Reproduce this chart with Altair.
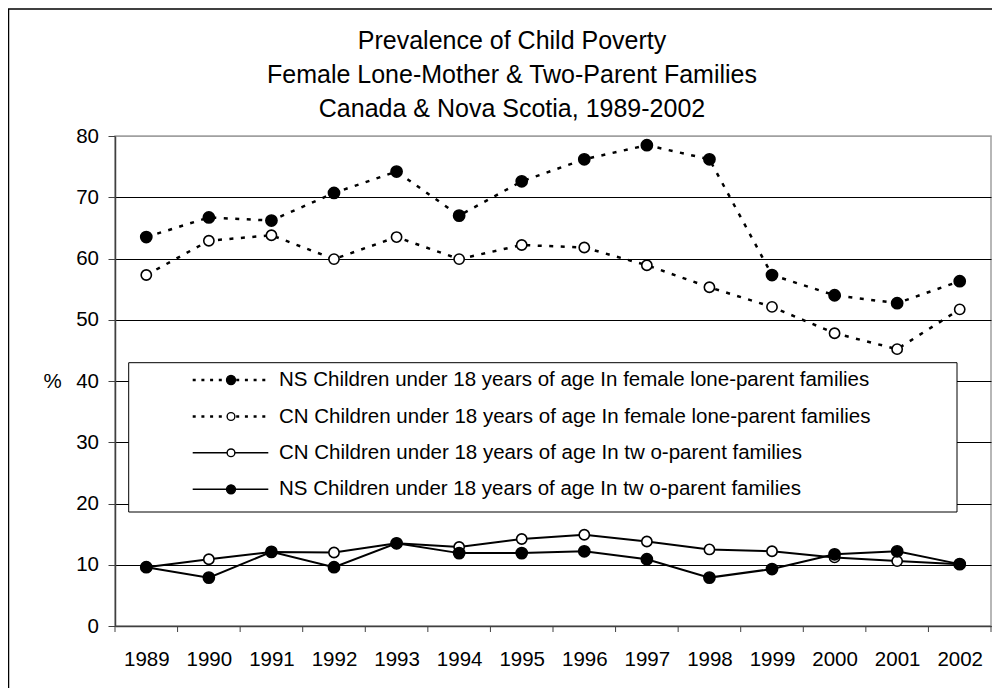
import altair as alt
import pandas as pd

YEARS = list(range(1989, 2003))
NS_LONE = [63.5, 66.7, 66.2, 70.7, 74.2, 67.0, 72.6, 76.2, 78.5, 76.2, 57.3, 54.0, 52.7, 56.3]
CN_LONE = [57.3, 62.9, 63.8, 59.9, 63.5, 59.9, 62.2, 61.8, 58.9, 55.3, 52.1, 47.8, 45.2, 51.7]
CN_TWO = [9.6, 10.9, 12.1, 12.0, 13.5, 12.9, 14.2, 14.9, 13.8, 12.5, 12.2, 11.2, 10.6, 10.1]
NS_TWO = [9.6, 7.9, 12.1, 9.6, 13.5, 11.9, 11.9, 12.2, 10.9, 7.9, 9.3, 11.7, 12.2, 10.1]

SERIES_NAMES = [
    "NS Children under 18 years of age In female lone-parent families",
    "CN Children under 18 years of age In female lone-parent families",
    "CN Children under 18 years of age In tw o-parent families",
    "NS Children under 18 years of age In tw o-parent families",
]
SERIES_VALUES = [NS_LONE, CN_LONE, CN_TWO, NS_TWO]
SERIES_DOTTED = [True, True, False, False]
SERIES_FILLED = [True, False, False, True]

TITLE_LINES = [
    "Prevalence of Child Poverty",
    "Female Lone-Mother & Two-Parent Families",
    "Canada & Nova Scotia, 1989-2002",
]
Y_TICKS = [0, 10, 20, 30, 40, 50, 60, 70, 80]
Y_TITLE = "%"

FONT = "Liberation Sans"
W, H = 876, 490
AXIS_COL = "#404040"

x_scale = alt.Scale(domain=[YEARS[0] - 0.5, YEARS[-1] + 0.5], nice=False, zero=False)
y_scale = alt.Scale(domain=[0, 80], nice=False, zero=True)

x_axis = alt.Axis(
    values=YEARS, format="d", ticks=False, tickSize=0, grid=False,
    domainColor=AXIS_COL, domainWidth=1.5,
    labelFont=FONT, labelFontSize=20.5, labelColor="black",
    labelBaseline="alphabetic", labelPadding=39, labelFlush=False,
    labelOverlap=False, title=None,
)
y_axis = alt.Axis(
    values=Y_TICKS, grid=True,
    gridColor={"condition": {"test": "datum.value == 80", "value": "#a0a0a0"}, "value": "black"},
    gridWidth=1, gridOpacity=1, tickSize=7, tickColor=AXIS_COL, tickWidth=1,
    domainColor=AXIS_COL, domainWidth=1.5,
    labelFont=FONT, labelFontSize=20.5, labelColor="black", labelPadding=9.5,
    labelFlush=False, labelOverlap=False,
    title=Y_TITLE, titleAngle=0, titleX=-63, titleY=245, titleAlign="center",
    titleBaseline="middle", titleFont=FONT, titleFontSize=20.5,
    titleFontWeight="normal", titleColor="black",
)


def X(field):
    return alt.X(field, scale=x_scale, axis=x_axis)


def Y(field):
    return alt.Y(field, scale=y_scale, axis=y_axis)


ordered = []
for name, vals, dotted, filled in zip(SERIES_NAMES, SERIES_VALUES, SERIES_DOTTED, SERIES_FILLED):
    df = pd.DataFrame({"year": YEARS, "value": vals, "series": name})
    line_kw = dict(color="black", strokeWidth=2.5 if dotted else 2)
    if dotted:
        line_kw["strokeDash"] = [4, 7.5]
    line = alt.Chart(df).mark_line(**line_kw).encode(x=X("year:Q"), y=Y("value:Q"))
    pts = alt.Chart(df).mark_point(
        shape="circle", filled=True, fill="black" if filled else "white",
        stroke="black", strokeWidth=1.6, size=125 if filled else 105, opacity=1,
    ).encode(x=X("year:Q"), y=Y("value:Q"))
    ordered += [line, pts]

# x ticks at category boundaries
bounds = pd.DataFrame({"year": [y - 0.5 for y in YEARS] + [YEARS[-1] + 0.5]})
xticks = alt.Chart(bounds).mark_rule(color=AXIS_COL, strokeWidth=1).encode(
    x=X("year:Q"), y=alt.value(H), y2=alt.value(H + 6)
)

one = pd.DataFrame({"k": [0]})

# outer chart frame (top & left edges visible)
frame_left = alt.Chart(one).mark_rule(color="black", strokeWidth=1.5).encode(
    x=alt.value(-106.5), y=alt.value(-127), y2=alt.value(H + 80)
)
frame_top = alt.Chart(one).mark_rule(color="black", strokeWidth=1.5).encode(
    x=alt.value(-107), x2=alt.value(W + 10), y=alt.value(-127)
)

# title lines
title_layers = []
title_y = [-86.7, -52.7, -19.3]
for txt, ty in zip(TITLE_LINES, title_y):
    title_layers.append(
        alt.Chart(one).mark_text(
            text=txt, font=FONT, fontSize=25, color="black",
            align="center", baseline="alphabetic",
        ).encode(x=alt.value(397), y=alt.value(ty))
    )

# legend box
legend_box = alt.Chart(one).mark_rect(fill="white", stroke="black", strokeWidth=1).encode(
    x=alt.value(13.7), x2=alt.value(842), y=alt.value(226.7), y2=alt.value(376)
)
legend_layers = [legend_box]
row_y = [244, 280.5, 316.8, 353.3]
for name, dotted, filled, ry in zip(SERIES_NAMES, SERIES_DOTTED, SERIES_FILLED, row_y):
    rkw = dict(color="black", strokeWidth=2.5 if dotted else 1.6)
    if dotted:
        rkw["strokeDash"] = [3, 5.7]
    legend_layers.append(
        alt.Chart(one).mark_rule(**rkw).encode(x=alt.value(77.7), x2=alt.value(153.3), y=alt.value(ry))
    )
    legend_layers.append(
        alt.Chart(one).mark_point(
            shape="circle", filled=True, fill="black" if filled else "white",
            stroke="black", strokeWidth=1.4, size=80 if filled else 60, opacity=1,
        ).encode(x=alt.value(116), y=alt.value(ry))
    )
    legend_layers.append(
        alt.Chart(one).mark_text(
            text=name, font=FONT, fontSize=20.5, color="black",
            align="left", baseline="middle",
        ).encode(x=alt.value(164), y=alt.value(ry))
    )

chart = alt.layer(
    *ordered, xticks, *legend_layers, frame_left, frame_top, *title_layers
).properties(
    width=W, height=H,
    autosize=alt.AutoSizeParams(type="none"),
    padding={"left": 107, "top": 128, "right": 1, "bottom": 62},
    background="white",
).configure_view(
    stroke="#a0a0a0", strokeWidth=1.5
)

chart.save("out.html", embed_options={"renderer": "svg", "actions": False})
